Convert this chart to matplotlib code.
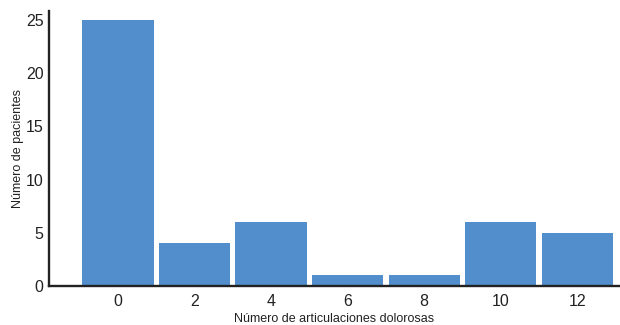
import matplotlib
matplotlib.use("Agg")
import matplotlib.pyplot as plt

# Number of painful joints (bin centres) and patient counts
articulaciones = [0, 2, 4, 6, 8, 10, 12]
pacientes = [25, 4, 6, 1, 1, 6, 5]

plt.rcParams['font.family'] = ['Liberation Sans', 'DejaVu Sans']

fig = plt.figure(figsize=(6.2, 3.25), dpi=100)
ax = fig.add_axes([0.079, 0.12, 0.919, 0.846])

ax.bar(articulaciones, pacientes, width=1.86, color="#528ecb", align="center")

ax.set_xlim(-1.8, 13.08)
ax.set_ylim(0, 25.85)
ax.set_xticks(articulaciones)
ax.set_yticks([0, 5, 10, 15, 20, 25])
ax.tick_params(axis="both", length=0, labelsize=11.5, colors="#222222")
ax.tick_params(axis="x", pad=6)
ax.tick_params(axis="y", pad=4)

for s in ("top", "right"):
    ax.spines[s].set_visible(False)
for s in ("left", "bottom"):
    ax.spines[s].set_linewidth(1.7)
    ax.spines[s].set_color("#222222")

ax.set_xlabel("Número de articulaciones dolorosas", fontsize=9, color="#222222", labelpad=3)
ax.set_ylabel("Número de pacientes", fontsize=9, color="#222222", labelpad=1)

fig.savefig("out.png", dpi=100)
